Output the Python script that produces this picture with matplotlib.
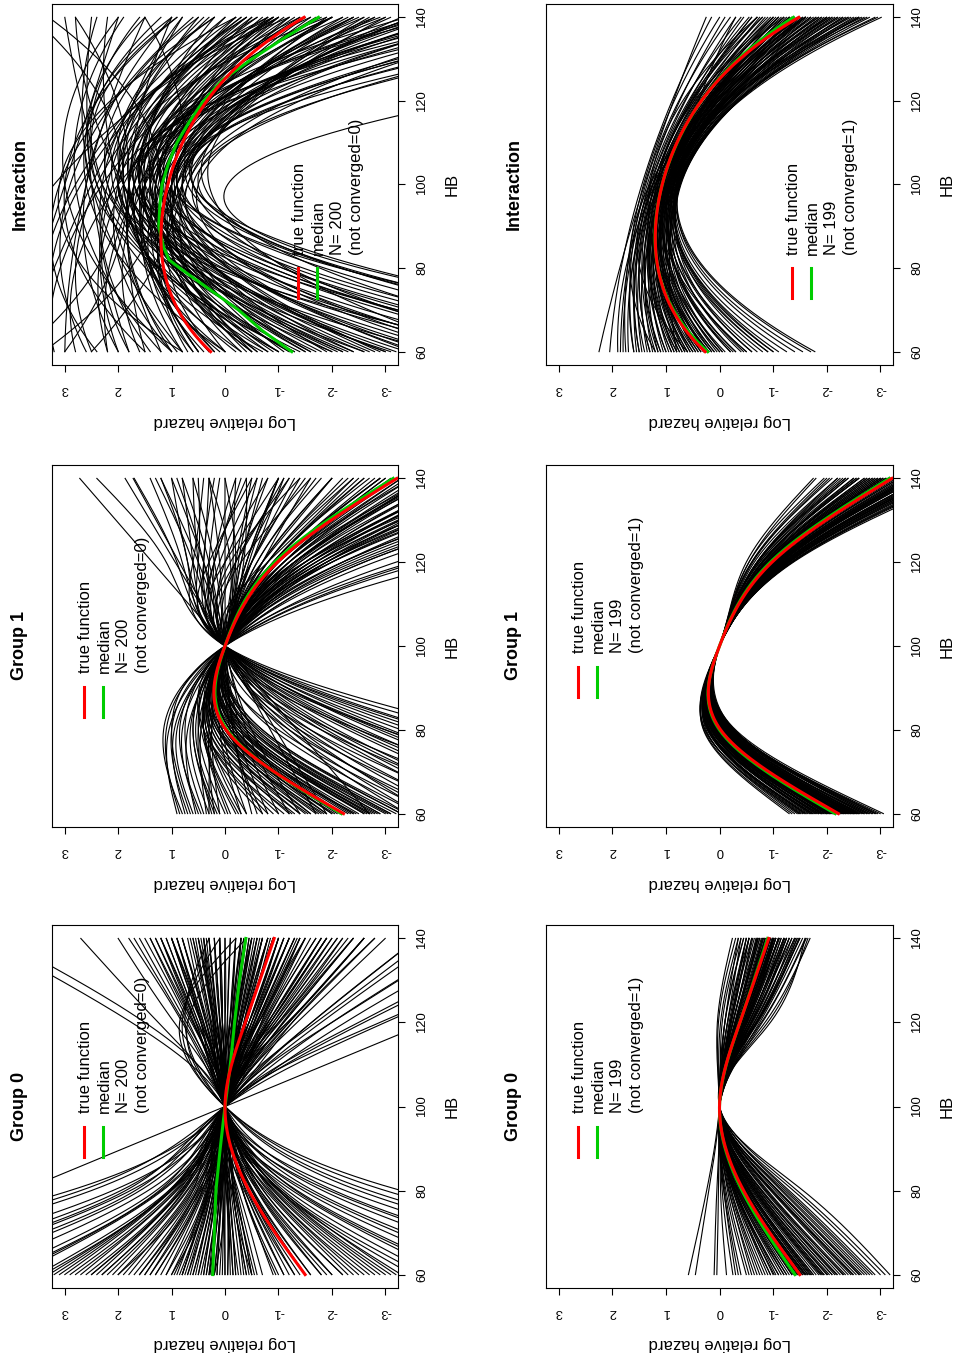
import numpy as np
import matplotlib
matplotlib.use("Agg")
import matplotlib.pyplot as plt
from matplotlib.lines import Line2D
from matplotlib.transforms import Affine2D, ScaledTranslation, blended_transform_factory

plt.rcParams['font.family'] = ['Liberation Sans', 'DejaVu Sans']

# ------------------------------------------------------------------ data
HB_TICKS = [60, 80, 100, 120, 140]
HAZ_TICKS = [3, 2, 1, 0, -1, -2, -3]
HAZ_LABELS = ['3', '2', '1', '0', '-1', '-2', '-3']
KNOTS5 = [60, 80, 100, 120, 140]

# true functions (values at HB = 60, 80, 100, 120, 140)
true_group0 = [-1.50, -0.45, 0.0, -0.38, -0.92]
true_group1 = [-2.22, -0.02, 0.0, -0.98, -3.22]
true_inter = [0.27, 1.15, 1.07, 0.34, -1.48]

# medians of the converged fits
med_g0_conv1 = [-1.41, -0.42, 0.0, -0.38, -0.90]
med_g1_conv0 = [-2.18, -0.04, 0.0, -0.93, -3.15]
med_g1_conv1 = [-2.16, 0.00, 0.0, -0.95, -3.17]
med_int_conv1 = [0.22, 1.15, 1.07, 0.34, -1.38]
med_g0_conv0_hb = [60, 70, 80, 90, 100, 110, 120, 130, 140]
med_g0_conv0 = [0.23, 0.20, 0.17, 0.09, 0.0, -0.10, -0.18, -0.27, -0.39]
med_int_conv0_hb = [60, 65, 70, 75, 80, 82, 85, 90, 95, 100, 105, 110, 115,
                    120, 125, 130, 135, 140]
med_int_conv0 = [-1.25, -0.70, -0.25, 0.30, 0.85, 1.05, 1.15, 1.24, 1.22, 1.18,
                 1.06, 0.90, 0.67, 0.40, 0.05, -0.50, -1.10, -1.75]

# ---- Group 0, N=200: simulated fits (values at HB 60, 80, 120, 140; 0 at HB 100)
g0_c0_hb60 = [0.85, 0.8, 0.75, 0.7, 0.65, 0.6, 0.55, 0.5, 0.45, 0.4,
              0.35, 0.3, 0.25, 0.2, 0.15, 0.1, 0.05, 0.0, -0.05, -0.1,
              -0.15, -0.2, -0.25, -0.3, -0.35, -0.4, -0.45, -0.5, 0.9, 0.28,
              1.0, 1.2, 1.4, 1.6, 1.8, 2.0, 2.2, 2.4, 2.6, 2.8,
              3.0, 3.2, 1.1, 1.5, 1.9, 2.3, 2.7, 3.1, 1.3, 2.5,
              -1.0, -1.2, -1.4, -1.6, -1.8, -2.0, -2.2, -2.4, -2.6, -2.8,
              -3.0, -3.2, -1.1, -1.5, -1.9, -2.3, -2.7, -3.1, -1.3, -2.5,
              3.5, 3.9, 4.3, 4.8, 5.3, 5.9, 6.5, 7.0, 7.6, 8.3,
              9.0, 9.6, 4.1, 5.6, 3.4, 6.2,
              -3.5, -3.9, -4.4, -4.9, -5.5, -6.1, -6.8, -7.5, -8.3, -9.0,
              -10.0, -11.0, -4.2, -5.2, -6.5, -3.7,
              1.5, 0.8, -0.5, 0.3, 1.0, 2.0, -0.5, 0.2,
              0.6, 0.4, 0.2, 0.0, -0.2, -0.4, 0.8, -0.6, 1.1, -0.9,
              1.3, -1.1, 1.7, -1.5, 2.1, -1.8, 2.5, -2.2, 0.35, -0.15,
              0.7, -0.7, 0.95, -0.95, 1.6, -1.6, 2.9, -2.9, 3.3, -3.3,
              0.5, -0.55, 0.15, -0.05, 1.4, -1.3, 2.3, -2.0, 4.0, -4.5]
g0_c0_hb80 = [0.32, 0.30, 0.28, 0.26, 0.25, 0.22, 0.2, 0.19, 0.17, 0.15,
              0.13, 0.11, 0.09, 0.07, 0.05, 0.04, 0.02, 0.0, -0.02, -0.04,
              -0.05, -0.07, -0.09, -0.11, -0.13, -0.15, -0.17, -0.19, 0.34, 0.1,
              0.33, 0.4, 0.46, 0.53, 0.6, 0.66, 0.72, 0.8, 0.86, 0.92,
              1.0, 1.05, 0.36, 0.5, 0.63, 0.76, 0.9, 1.02, 0.43, 0.83,
              -0.33, -0.4, -0.46, -0.53, -0.6, -0.66, -0.72, -0.8, -0.86, -0.92,
              -1.0, -1.05, -0.36, -0.5, -0.63, -0.76, -0.9, -1.02, -0.43, -0.83,
              1.05, 1.17, 1.29, 1.44, 1.59, 1.77, 1.95, 2.1, 3.8, 2.5,
              2.7, 2.9, 1.23, 1.68, 1.02, 1.86,
              -1.05, -1.17, -1.32, -1.47, -1.65, -1.83, -2.04, -2.25, -2.5, -2.7,
              -3.0, -3.3, -1.26, -1.56, -1.95, -1.1,
              0.45, 0.25, -0.15, 0.1, 0.3, 0.6, -0.15, 0.06,
              0.22, 0.16, 0.08, 0.0, -0.08, -0.15, 0.3, -0.22, 0.38, -0.32,
              0.42, -0.38, 0.56, -0.5, 0.7, -0.6, 0.82, -0.72, 0.12, -0.05,
              0.25, -0.25, 0.33, -0.33, 0.52, -0.52, 0.95, -0.95, 1.0, -1.0,
              0.18, -0.2, 0.05, -0.02, 0.48, -0.44, 0.78, -0.66, 1.2, -1.35]
g0_c0_hb120 = [-0.85, 0.42, -0.27, -1.1, 0.14, -0.55, 0.6, -0.09, -0.72, 0.27,
               -0.4, -0.95, 0.05, -0.22, 0.5, -0.63, -0.13, 0.22, -1.2, -0.36,
               0.09, -0.5, 0.72, -0.18, -0.8, 0.36, -0.04, -0.58, 0.0, -0.31,
               -0.45, 0.18, -1.0, -0.13, 0.45, -0.68, -0.27, 0.32, -1.26, -0.4,
               0.09, -0.81, -1.35, 0.63, -0.05, -0.9, 0.54, -0.22, -0.31, -0.5,
               0.14, -0.54, 0.4, -0.22, 0.58, -0.85, 0.0, -0.36, 0.68, -0.09,
               0.27, -0.63, -1.03, -0.09, 0.22, -1.17, 0.05, 0.45, 0.77, -0.45,
               -0.54, -0.13, -1.08, -0.36, -1.62, -0.77, -2.0, -0.22, -3.8, -1.26,
               -2.25, -0.68, -1.8, -2.6, -1.62, -3.0,
               0.18, -0.27, 0.54, -0.45, 0.22, -0.13, 0.45, -0.63, 0.75, 0.7,
               0.85, 0.8, -0.9, -1.17, -1.0, 0.8,
               1.5, 1.75, 1.25, 0.95, -2.0, -2.5, -1.7, -2.9,
               -0.3, 0.35, -0.6, 0.15, -0.45, 0.5, -0.15, -0.3, 0.25, -0.7,
               -0.55, 0.3, -0.4, -0.2, 0.15, -0.6, -0.75, 0.35, 0.05, -0.25,
               0.45, -0.95, -1.1, 0.6, -0.85, 0.1, -0.35, -0.5, 0.2, -0.8,
               -0.2, 0.2, 0.4, -0.85, 0.05, -0.4, -1.2, 0.55, -0.6, -0.3]
g0_c0_hb140 = [-1.9, 0.9, -0.6, -2.4, 0.3, -1.2, 1.4, -0.2, -1.6, 0.6,
               -0.9, -2.1, 0.1, -0.5, 1.1, -1.4, -0.3, 0.5, -2.6, -0.8,
               0.2, -1.1, 1.6, -0.4, -1.8, 0.8, -0.1, -1.3, 0.0, -0.7,
               -1.0, 0.4, -2.2, -0.3, 1.0, -1.5, -0.6, 0.7, -2.8, -0.9,
               0.2, -1.8, -3.0, 1.4, -0.1, -2.0, 1.2, -0.5, -0.7, -1.1,
               0.3, -1.2, 0.9, -0.5, 1.3, -1.9, 0.0, -0.8, 1.5, -0.2,
               0.6, -1.4, -2.3, -0.2, 0.5, -2.6, 0.1, 1.0, 1.7, -1.0,
               -1.2, -0.3, -2.4, -0.8, -3.6, -1.7, -4.5, -0.5, -7.6, -2.8,
               -5.0, -1.5, -4.0, -5.8, -3.6, -6.6,
               0.4, -0.6, 1.2, -1.0, 0.5, -0.3, 1.0, -1.4, 0.3, -0.4,
               -0.2, 0.1, -2.0, -2.6, -2.2, 1.8,
               4.2, 4.5, 2.7, 2.0, -4.5, -5.5, -3.8, -6.5,
               -0.7, 0.8, -1.3, 0.3, -1.0, 1.1, -0.35, -0.65, 0.55, -1.5,
               -1.2, 0.65, -0.9, -0.45, 0.35, -1.35, -1.7, 0.8, 0.1, -0.55,
               1.0, -2.1, -2.4, 1.3, -1.9, 0.2, -0.8, -1.1, 0.4, -1.8,
               -0.45, 0.45, 0.9, -1.9, 0.1, -0.85, -2.6, 1.2, -1.3, -0.7]

# ---- Group 0, N=199 (values at HB 60, 80, 120, 140; 0 at HB 100)
g0_c1_hb60 = [0.58, 0.45, 0.10, 0.05, -0.13, -0.25, -0.40, -0.55, -0.70, -0.85,
              -1.00, -1.10, -1.20, -1.30, -1.40, -1.50, -1.55, -1.60, -1.70, -1.80,
              -1.90, -2.00, -2.10, -2.20, -2.30, -2.40, -2.50, -2.60, -2.70, -2.80,
              -2.90, -3.00, -3.09, -3.18, -0.30, -0.60, -0.90, -1.15, -1.45, -1.75,
              -2.05, -2.35, -1.25, -1.65, -1.95, -2.25, -2.55, -2.85, -1.35, -1.85,
              -2.15, -0.75, -1.05, -2.65, -1.58, -1.42, -1.62, -2.45, -0.95, -1.95,
              -1.45, -1.52, -1.48, -1.65, -1.35, -1.75, -1.25, -1.88, -1.10, -2.02,
              -0.95, -2.18, -0.80, -2.32, -0.65, -2.48, -0.50, -2.62, -0.35, -2.75,
              -1.55, -1.60, -1.38, -1.68, -1.20, -1.92, -1.02, -2.10, -1.48, -1.72]
g0_c1_hb80 = [0.24, 0.20, 0.05, 0.02, -0.02, -0.05, -0.10, -0.15, -0.20, -0.25,
              -0.30, -0.28, -0.35, -0.38, -0.40, -0.45, -0.48, -0.50, -0.55, -0.60,
              -0.65, -0.70, -0.75, -0.80, -0.88, -0.95, -1.00, -1.08, -1.15, -1.22,
              -1.30, -1.38, -1.45, -1.56, -0.08, -0.18, -0.26, -0.32, -0.42, -0.58,
              -0.72, -0.90, -0.36, -0.52, -0.66, -0.84, -1.04, -1.26, -0.40, -0.62,
              -0.78, -0.22, -0.30, -1.10, -0.47, -0.43, -0.50, -0.97, -0.28, -0.68,
              -0.42, -0.46, -0.44, -0.53, -0.38, -0.57, -0.34, -0.63, -0.30, -0.70,
              -0.25, -0.78, -0.22, -0.86, -0.17, -0.98, -0.12, -1.08, -0.08, -1.18,
              -0.47, -0.50, -0.40, -0.55, -0.33, -0.66, -0.28, -0.74, -0.45, -0.56]
g0_c1_hb120 = [-0.10, -0.05, 0.02, -0.15, 0.04, -0.02, -0.20, -0.10, -0.30, -0.15,
               -0.35, -0.25, -0.45, -0.20, -0.40, -0.38, -0.50, -0.30, -0.45, -0.55,
               -0.35, -0.60, -0.42, -0.65, -0.48, -0.70, -0.55, -0.78, -0.60, -0.85,
               -0.65, -0.90, -0.70, -0.95, -0.25, -0.45, -0.55, -0.60, -0.15, -0.22,
               -0.25, -0.30, -0.70, -0.75, -0.80, -0.52, -0.40, -0.50, -0.32, -0.48,
               -0.58, -0.10, -0.65, -0.72, -0.42, -0.36, -0.40, -0.62, -0.28, -0.50,
               -0.38, -0.44, -0.33, -0.47, -0.41, -0.36, -0.30, -0.52, -0.45, -0.40,
               -0.35, -0.55, -0.22, -0.45, -0.40, -0.60, -0.18, -0.48, -0.30, -0.68,
               -0.58, -0.25, -0.50, -0.55, -0.20, -0.30, -0.50, -0.68, -0.46, -0.42]
g0_c1_hb140 = [-0.45, -0.40, -0.30, -0.55, -0.24, -0.35, -0.60, -0.45, -0.75, -0.50,
               -0.85, -0.65, -1.00, -0.55, -0.90, -0.92, -1.10, -0.75, -1.00, -1.20,
               -0.80, -1.30, -0.95, -1.40, -1.05, -1.50, -1.15, -1.60, -1.25, -1.69,
               -1.35, -1.65, -1.45, -1.60, -0.70, -1.05, -1.25, -1.35, -0.40, -0.55,
               -0.60, -0.70, -1.50, -1.55, -1.62, -1.10, -0.85, -1.00, -0.78, -1.02,
               -1.22, -0.35, -1.40, -1.48, -0.95, -0.88, -0.90, -1.30, -0.72, -1.10,
               -0.85, -0.98, -0.80, -1.05, -0.95, -0.82, -0.72, -1.15, -1.00, -0.92,
               -0.82, -1.20, -0.55, -1.00, -0.90, -1.30, -0.50, -1.05, -0.68, -1.42,
               -1.25, -0.62, -1.12, -1.20, -0.50, -0.72, -1.10, -1.45, -1.02, -0.95]

# ---- Group 1, N=200 (values at HB 60, 80, 120, 140; 0 at HB 100)
g1_c0_hb60 = [-4.0, -4.5, -5.0, -5.5, -6.0, -6.5, -7.0, -7.5, -8.0, -8.5,
              -9.0, -10.0, -11.0, -3.6, -4.2, -4.8, -5.3, -5.8, -6.3, -6.8,
              -7.3, -3.4, -3.8, -9.5, -12.0,
              -2.7, -1.9, -1.7,
              0.85, 0.9, 0.75, 0.6, 0.5, 0.4, 0.3, 0.2, 0.1, 0.0,
              -0.1, -0.2, -0.3, -0.4, 0.8, 0.55, 0.25, -0.05, 0.65, 0.35,
              -0.8, -1.0, -1.2, -1.4, -1.5, -1.6, -1.7, -1.8, -1.9, -2.0,
              -2.1, -2.2, -2.3, -2.4, -2.5, -2.6, -2.7, -2.8, -2.9, -3.0,
              -3.1, -3.2, -3.3, -3.4, -1.1, -1.3, -1.75, -2.05, -2.35, -2.65,
              -0.9, -1.55, -2.45, -2.85, -1.25, -2.15, -0.7, -1.85, -2.75, -3.05,
              0.3, -0.5, -0.4, 0.1, -0.6, 0.2,
              -3.6, -4.2, -5.0, -6.0, -7.0, -3.3, -3.9, -4.6, -5.5, -8.0,
              -2.2, -2.6, -1.9, -2.9, -1.6, -2.4, -2.0, -3.1, -1.4, -2.7,
              0.45, 0.15, -0.25, 0.7,
              -1.0, -0.8, -1.2, -0.3, -1.4, -0.7]
g1_c0_hb80 = [-1.3, -1.6, -1.9, -2.1, -2.4, -2.6, -2.9, -3.1, -3.3, -3.5,
              -3.7, -4.0, -4.4, -1.2, -1.5, -1.8, -2.0, -2.3, -2.5, -2.8,
              -3.0, -1.1, -1.4, -3.9, -4.8,
              -1.35, -0.95, -0.85,
              1.1, 1.05, 0.95, 0.9, 0.8, 0.75, 0.65, 0.6, 0.55, 0.5,
              0.45, 0.4, 0.35, 0.3, 1.15, 0.7, 0.5, 0.4, 1.0, 0.45,
              0.35, 0.3, 0.25, 0.2, 0.15, 0.1, 0.05, 0.0, 0.0, -0.05,
              -0.1, -0.1, -0.15, -0.2, -0.25, -0.3, -0.35, -0.4, -0.45, -0.5,
              -0.55, -0.6, -0.65, -0.7, 0.4, 0.25, 0.1, 0.0, -0.2, -0.25,
              0.35, 0.2, -0.1, -0.4, 0.3, -0.2, 0.4, 0.15, -0.3, -0.5,
              0.25, -0.15, 0.05, 0.25, -0.15, 0.3,
              -0.9, -1.2, -1.6, -2.0, -2.5, -0.7, -1.0, -1.4, -1.8, -3.0,
              -0.2, -0.35, -0.1, -0.5, 0.05, -0.3, -0.15, -0.6, 0.12, -0.4,
              0.85, 0.6, 0.4, 1.0,
              -0.3, -0.2, -0.4, 0.1, -0.5, -0.1]
g1_c0_hb120 = [0.2, 0.5, 0.3, 0.7, 0.1, 0.6, 0.4, 0.9, 0.2, 0.7,
               0.5, 1.1, 0.3, -0.2, 0.0, -0.1, 0.4, -0.3, 0.2, 0.8,
               -0.2, 0.4, 0.6, 0.0, 0.6,
               1.36, 0.93, 0.86,
               -3.6, -2.6, -2.3, -2.0, -1.8, -2.8, -1.6, -2.2, -1.5, -1.9,
               -3.5, -1.4, -2.4, -1.2, -3.8, -1.3, -1.1, -1.7, -4.3, -1.0,
               -0.5, -0.8, -1.2, -0.6, -1.5, -0.9, -1.1, -0.7, -1.3, -1.0,
               -0.8, -1.2, -1.6, -0.9, -1.1, -1.4, -0.6, -1.0, -1.8, -0.8,
               -1.2, -0.5, -1.5, -0.9, -1.9, -0.4, -2.0, -0.45, -1.3, -2.2,
               -0.3, -0.25, -0.35, -0.2, -0.15, -0.1, -1.0, -1.7, -1.9, -1.35,
               -0.3, 0.2, -0.5, -0.7, 0.4, -0.4,
               -1.1, -0.9, -1.3, -0.7, -1.5, -1.6, -2.0, -0.5, -1.0, -0.8,
               -1.5, -2.2, -1.8, -1.3, -2.5, -0.7, -1.1, -1.0, -1.3, -1.7,
               -2.6, -1.9, -1.6, -3.2,
               0.1, -0.2, 0.5, -0.4, 0.3, 0.0]
g1_c0_hb140 = [-0.2, 0.6, 0.1, 1.0, -0.6, 0.8, 0.3, 1.7, -0.3, 1.2,
               0.5, 2.4, -0.5, -1.2, -0.8, -1.4, 0.2, -1.6, -0.4, 1.4,
               -1.1, 0.9, 1.3, -1.0, 0.4,
               2.72, 1.87, 1.72,
               -10.0, -7.5, -6.8, -6.0, -5.5, -8.0, -5.0, -6.5, -4.6, -5.8,
               -10.0, -4.2, -7.0, -3.8, -11.0, -4.0, -3.5, -5.2, -12.0, -3.2,
               -1.5, -2.3, -3.4, -1.8, -4.2, -2.7, -3.0, -2.0, -3.7, -2.9,
               -2.4, -3.3, -4.4, -2.6, -3.1, -3.9, -1.7, -2.8, -4.9, -2.2,
               -3.5, -1.3, -4.1, -2.5, -5.0, -1.2, -5.6, -1.0, -3.6, -6.0,
               -0.8, -0.6, -0.4, 0.0, -0.2, 0.3, -2.9, -4.6, -5.2, -3.8,
               -0.7, 0.6, -1.1, -1.6, 1.0, -1.0,
               -3.3, -2.6, -3.8, -2.0, -4.5, -4.8, -6.0, -1.4, -3.0, -2.4,
               -4.5, -6.5, -5.4, -3.8, -7.2, -2.0, -3.2, -2.9, -3.9, -5.0,
               -7.4, -5.6, -4.8, -9.0,
               0.3, -0.5, 1.2, -1.0, 0.8, 0.0]

# ---- Group 1, N=199 (values at HB 60, 80, 120, 140; 0 at HB 100)
g1_c1_hb60 = [-1.30, -1.40, -1.50, -1.55, -1.62, -1.68, -1.74, -1.80, -1.85, -1.90,
              -1.95, -2.00, -2.03, -2.07, -2.10, -2.14, -2.18, -2.22, -2.25, -2.28,
              -2.32, -2.36, -2.40, -2.44, -2.48, -2.52, -2.56, -2.60, -2.65, -2.70,
              -2.75, -2.80, -2.86, -2.92, -3.00, -3.06, -1.60, -1.75, -1.90, -2.05,
              -2.50, -2.70, -2.90, -2.40, -1.45, -1.65, -2.20, -2.60, -2.00, -2.30,
              -1.85, -2.15, -2.45, -2.75, -1.35, -2.95, -1.95, -2.35, -2.55, -2.10,
              -1.70, -1.78, -1.88, -1.98, -2.06, -2.12, -2.16, -2.20, -2.26, -2.31,
              -2.38, -2.42, -2.47, -2.53, -2.58, -2.62, -2.68, -1.58, -1.72, -1.82,
              -1.92, -2.02, -2.24, -2.34, -2.50, -2.78, -2.84, -1.48, -1.52, -2.12]
g1_c1_hb80 = [0.30, 0.25, 0.27, 0.20, 0.23, 0.15, 0.19, 0.10, 0.17, 0.07,
              0.13, 0.05, 0.10, 0.03, 0.07, 0.00, 0.05, -0.02, 0.02, -0.05,
              -0.01, -0.07, -0.03, -0.10, -0.06, -0.13, -0.09, -0.15, -0.12, -0.19,
              -0.15, -0.23, -0.20, -0.27, -0.25, -0.30, 0.20, 0.15, 0.10, 0.05,
              -0.10, -0.20, -0.25, -0.05, 0.27, 0.21, 0.03, -0.15, 0.09, -0.03,
              0.15, 0.03, -0.07, -0.17, 0.29, -0.27, 0.11, -0.05, -0.11, 0.05,
              0.14, 0.10, 0.06, 0.02, 0.00, -0.03, -0.04, -0.06, -0.08, -0.10,
              -0.12, -0.14, -0.16, -0.18, -0.20, -0.22, -0.24, 0.18, 0.12, 0.08,
              0.04, 0.01, -0.07, -0.11, -0.17, -0.26, -0.28, 0.22, 0.20, -0.04]
g1_c1_hb120 = [-0.50, -0.55, -0.65, -0.60, -0.72, -0.70, -0.80, -0.75, -0.85, -0.82,
               -0.90, -0.88, -0.95, -0.92, -0.98, -0.96, -1.02, -0.94, -1.05, -1.00,
               -1.08, -1.04, -1.12, -1.08, -1.16, -1.12, -1.20, -1.16, -1.25, -1.22,
               -1.30, -1.28, -1.35, -1.33, -1.38, -1.36, -1.10, -1.20, -1.25, -1.30,
               -0.80, -0.75, -0.85, -0.70, -0.95, -0.55, -1.25, -1.35, -0.70, -0.85,
               -1.00, -1.15, -0.95, -1.10, -0.70, -1.20, -0.60, -1.30, -1.00, -0.80,
               -0.90, -0.95, -0.80, -1.05, -0.90, -1.10, -0.86, -1.00, -1.14, -0.92,
               -1.06, -1.20, -0.98, -1.10, -1.24, -1.02, -1.14, -0.78, -1.00, -1.12,
               -0.72, -1.18, -1.28, -0.80, -0.88, -1.26, -1.00, -0.85, -0.62, -0.96]
g1_c1_hb140 = [-1.75, -1.95, -2.20, -2.10, -2.40, -2.35, -2.60, -2.50, -2.75, -2.70,
               -2.90, -2.85, -3.00, -2.95, -3.10, -3.05, -3.20, -3.22, -3.30, -3.25,
               -3.40, -3.35, -3.55, -3.45, -3.65, -3.60, -3.80, -3.70, -3.95, -3.90,
               -4.10, -4.05, -4.30, -4.25, -4.50, -4.40, -3.50, -3.80, -3.95, -4.20,
               -2.50, -2.40, -2.70, -2.20, -3.00, -1.80, -4.00, -4.35, -2.30, -2.75,
               -3.15, -3.60, -3.05, -3.50, -2.25, -3.85, -2.00, -4.15, -3.20, -2.55,
               -2.90, -3.05, -2.60, -3.35, -2.95, -3.55, -2.80, -3.15, -3.70, -3.00,
               -3.45, -3.90, -3.10, -3.55, -4.00, -3.25, -3.65, -2.55, -3.20, -3.60,
               -2.35, -3.80, -4.05, -2.60, -2.85, -3.95, -3.20, -2.80, -2.05, -3.12]

# ---- Interaction, N=200 (values at HB 60, 100, 140)
int_c0_hb60 = [0.8, 0.5, 0.3, 0.0, -0.3, -0.6, -0.9, -1.2, -1.5, -1.8,
               -2.1, -2.4, -2.7, -3.0, -3.2, 0.6, 0.2, -0.4, -1.0, -1.6,
               -2.2, -2.8, 1.0, 0.4, -0.2, -0.8, -1.4, -2.0, -2.6, -3.1,
               0.1, -0.5, -1.1, -1.7, -2.3, -2.9, 0.7, -0.7, -1.3, -1.9,
               -4.0, -4.6, -5.2, -5.8, -6.5, -7.2, -8.0, -9.0, -10.0, -11.0,
               -4.3, -5.0, -6.0, -7.0, -3.6, -4.8, -5.5, -6.8, -3.8, -8.5,
               -12.0, -10.5,
               1.5, 2.0, 2.5, 3.0, 3.5, 4.0, 2.2, 2.8, 3.3, 3.8,
               1.8, 1.2, 0.5, -0.5, 0.0, 1.0, 2.4, -1.0, 4.5, 3.0,
               3.4, 2.5, 3.8, 0.8, 1.5,
               0.5, 1.0, -0.5, 0.2, -1.2, 1.4, -0.8, 0.9, -1.6, 2.0,
               -2.4, 0.0, -1.0, 1.8, -2.0, 0.6, -0.3, 1.2, -1.5, 2.6,
               -3.0, -2.6, 0.3, -0.6, 1.6, 2.2, -1.3, 0.8, -2.2, 3.2,
               -5.0, -6.2, -4.4, -7.5, -3.4, -9.5, -5.6, -4.0, -6.8, -3.5]
int_c0_hb100 = [1.5, 1.3, 1.2, 1.1, 1.0, 1.4, 1.6, 1.3, 1.2, 1.5,
                1.7, 1.4, 1.1, 1.6, 1.9, 0.9, 0.8, 0.7, 0.9, 0.8,
                1.0, 0.9, 1.8, 1.7, 1.9, 2.0, 1.8, 2.1, 2.0, 2.2,
                1.4, 1.25, 1.15, 1.35, 1.55, 1.3, 1.0, 1.6, 1.7, 0.95,
                1.2, 0.9, 1.4, 0.6, 1.0, 0.4, 0.8, 0.6, 0.5, 0.6,
                1.6, 1.8, 1.5, 1.3, 1.0, 0.3, 2.0, 1.7, 0.7, 1.1,
                -0.05, 0.9,
                1.8, 2.2, 2.4, 2.6, 2.8, 3.0, 1.6, 2.0, 2.3, 2.5,
                2.5, 2.3, 2.0, 1.9, 2.6, 3.0, 3.1, 2.4, 3.2, 1.8,
                1.2, 0.8, 1.9, 3.1, 3.0,
                1.6, 2.0, 1.5, 1.9, 1.8, 2.3, 1.3, 1.7, 1.6, 2.6,
                1.2, 1.5, 2.2, 2.1, 1.9, 1.2, 2.4, 2.8, 1.0, 2.9,
                1.4, 1.7, 1.0, 0.9, 1.5, 1.9, 2.5, 2.5, 2.3, 2.7,
                1.0, 1.2, 0.5, 0.9, 1.3, 0.7, 1.6, 1.8, 0.6, 0.8]
int_c0_hb140 = [-0.5, -1.0, -1.5, -0.8, -2.0, -1.2, -0.3, -1.8, -2.4, -1.0,
                -0.6, -2.2, -2.8, -1.6, -0.9, -2.6, -3.0, -2.7, -3.3, -3.1,
                -3.5, -2.5, 0.0, -0.2, 0.3, -0.4, -1.4, -0.8, -1.9, -1.2,
                -2.3, -1.7, -0.7, -2.6, -2.0, -0.4, -1.9, -3.0, -2.9, -1.3,
                -4.5, -3.8, -5.5, -4.2, -6.5, -5.0, -7.5, -6.0, -9.0, -8.0,
                -3.6, -4.8, -3.4, -4.6, -3.9, -3.5, -6.0, -5.2, -5.8, -4.0,
                -16.0, -9.0,
                1.0, 0.5, -0.5, 1.5, 0.0, 2.0, -1.2, -2.0, -1.0, 0.8,
                2.5, 3.0, 2.2, 2.8, 1.2, 2.0, 0.2, 1.5, -0.8, 2.8,
                3.3, 1.5, 3.6, -0.2, 0.9,
                0.2, -0.6, -0.9, 0.8, -0.2, 0.4, -1.4, -1.1, -0.9, 1.0,
                -1.5, -2.0, 0.5, -0.4, 0.2, -2.2, 1.6, 1.9, -2.4, 0.6,
                -2.0, -1.0, -2.8, -2.4, -1.6, -0.9, 1.0, 2.4, 0.9, -0.3,
                -5.0, -4.4, -6.2, -6.8, -4.2, -7.0, -3.8, -5.2, -8.2, -3.6]

# ---- Interaction, N=199 (values at HB 60, 100, 140)
int_c1_hb60 = [2.25, 2.05, 1.85, 1.80, 1.75, 1.70, 1.60, 1.55, 1.50, 1.45,
               1.40, 1.35, 1.30, 1.25, 1.20, 1.15, 1.10, 1.05, 1.00, 0.95,
               0.90, 0.85, 0.80, 0.75, 0.70, 0.65, 0.60, 0.55, 0.50, 0.45,
               0.40, 0.35, 0.30, 0.25, 0.20, 0.15, 0.10, 0.05, 0.00, -0.05,
               -0.10, -0.20, -0.30, -0.40, -0.50, -0.60, -0.70, -0.80, -0.90, -1.00,
               -1.10, -1.25, -1.40, -1.55, -1.78, -1.70,
               1.2, 0.6, -0.5, -1.0, 1.6, 0.2, 0.8, 1.9,
               1.0, 0.7, 0.4, 0.1, -0.2, 0.9, 0.6, 0.3, 0.0, -0.3,
               1.3, 1.1, 0.8, 0.5, 0.2, 1.5, -0.6, -0.9, 0.35, 0.75,
               0.55, 0.25, -0.05, -0.45, 1.15, 0.85, -0.25, 0.45, 0.15, 0.65]
int_c1_hb100 = [1.40, 1.45, 1.35, 1.30, 1.42, 1.25, 1.38, 1.20, 1.32, 1.15,
                1.28, 1.10, 1.24, 1.05, 1.20, 1.00, 1.16, 0.98, 1.12, 0.95,
                1.10, 0.92, 1.08, 0.90, 1.06, 0.88, 1.04, 0.86, 1.02, 0.84,
                1.00, 0.82, 1.07, 0.80, 0.98, 0.78, 0.96, 0.76, 0.94, 0.75,
                0.92, 0.74, 0.90, 0.73, 0.88, 0.72, 0.86, 0.74, 0.84, 0.76,
                0.82, 0.78, 0.80, 0.75, 0.77, 0.80,
                1.30, 1.25, 1.15, 0.95, 1.10, 1.30, 0.80, 1.20,
                1.05, 1.00, 0.95, 0.90, 0.86, 1.15, 1.10, 1.04, 0.98, 0.92,
                1.18, 1.12, 1.06, 1.00, 0.94, 1.25, 0.85, 0.80, 0.88, 0.95,
                1.18, 1.12, 1.02, 0.96, 1.00, 1.22, 0.80, 1.08, 1.00, 1.04]
int_c1_hb140 = [0.25, 0.15, -0.10, -0.30, 0.00, -0.45, -0.20, -0.60, -0.40, -0.75,
                -0.55, -0.85, -0.70, -1.00, -0.80, -1.10, -0.95, -1.20, -1.05, -1.30,
                -1.15, -1.40, -1.25, -1.50, -1.35, -1.60, -1.45, -1.70, -1.55, -1.80,
                -1.65, -1.90, -1.49, -2.00, -1.75, -2.10, -1.85, -2.20, -1.95, -2.30,
                -2.05, -2.40, -2.15, -2.50, -2.25, -2.60, -2.35, -2.70, -2.45, -2.80,
                -2.55, -2.90, -2.65, -3.02, -2.95, -2.75,
                -2.0, -2.6, -1.2, -1.6, -1.6, -0.7, -0.3, -1.1,
                -1.2, -1.4, -1.6, -1.9, -2.1, -0.9, -1.1, -1.35, -1.6, -1.85,
                -1.0, -1.3, -1.55, -1.8, -2.05, -0.6, -2.2, -2.4, -2.3, -2.0,
                -0.8, -1.0, -1.3, -1.6, -1.7, -0.7, -2.6, -1.5, -1.7, -1.3]

# ------------------------------------------------------------------ drawing
W, H = 960, 1358
RED = '#FF0000'
GREEN = '#00CD00'
fig = plt.figure(figsize=(W / 100, H / 100), dpi=100)
px = Affine2D().scale(1.0 / W, -1.0 / H).translate(0, 1) + fig.transFigure
hb_grid = np.linspace(60, 140, 241)


def poly_curve(knots, vals, grid):
    """Polynomial through the given (HB, value) points."""
    k = (np.asarray(knots, float) - 100.0) / 40.0
    coef = np.polynomial.polynomial.polyfit(k, np.asarray(vals, float), len(knots) - 1)
    return np.polynomial.polynomial.polyval((grid - 100.0) / 40.0, coef)


def spline_curve(knots, vals, grid):
    """Natural cubic spline through the given (HB, value) points."""
    xk = np.asarray(knots, float)
    yk = np.asarray(vals, float)
    n = len(xk)
    h = np.diff(xk)
    A = np.zeros((n, n))
    r = np.zeros(n)
    A[0, 0] = A[-1, -1] = 1.0
    for i in range(1, n - 1):
        A[i, i - 1] = h[i - 1]
        A[i, i] = 2 * (h[i - 1] + h[i])
        A[i, i + 1] = h[i]
        r[i] = 6 * ((yk[i + 1] - yk[i]) / h[i] - (yk[i] - yk[i - 1]) / h[i - 1])
    M = np.linalg.solve(A, r)
    j = np.clip(np.searchsorted(xk, grid) - 1, 0, n - 2)
    x0, x1 = xk[j], xk[j + 1]
    hh = x1 - x0
    t0, t1 = x1 - grid, grid - x0
    return ((M[j] * t0 ** 3 + M[j + 1] * t1 ** 3) / (6 * hh)
            + (yk[j] / hh - M[j] * hh / 6) * t0 + (yk[j + 1] / hh - M[j + 1] * hh / 6) * t1)


def group_sims(*cols):
    assert all(len(c) == len(cols[0]) for c in cols), [len(c) for c in cols]
    return KNOTS5, [(a, b, 0.0, c, d) for a, b, c, d in zip(*cols)], spline_curve


def inter_sims(*cols):
    assert all(len(c) == len(cols[0]) for c in cols), [len(c) for c in cols]
    return [60, 100, 140], list(zip(*cols)), poly_curve


LEFT = (52, 398)
RIGHT = (546, 893)
ROWS = {'top': (4, 365), 'mid': (465, 827), 'bot': (925, 1288)}

panels = [
    dict(title='Interaction', col=LEFT, row='top',
         sims=inter_sims(int_c0_hb60, int_c0_hb100, int_c0_hb140),
         true=(true_inter, poly_curve), med=(med_int_conv0_hb, med_int_conv0, None),
         leg=(247, 255, (268.3, 298.3)), n='N= 200', nc='(not converged=0)'),
    dict(title='Interaction', col=RIGHT, row='top',
         sims=inter_sims(int_c1_hb60, int_c1_hb100, int_c1_hb140),
         true=(true_inter, poly_curve), med=(KNOTS5, med_int_conv1, poly_curve),
         leg=(247, 255, (268.3, 298.3)), n='N= 199', nc='(not converged=1)'),
    dict(title='Group 1', col=LEFT, row='mid',
         sims=group_sims(g1_c0_hb60, g1_c0_hb80, g1_c0_hb120, g1_c0_hb140),
         true=(true_group1, spline_curve), med=(KNOTS5, med_g1_conv0, spline_curve),
         leg=(33, 673.3, (686.7, 716.7)), n='N= 200', nc='(not converged=0)'),
    dict(title='Group 1', col=RIGHT, row='mid',
         sims=group_sims(g1_c1_hb60, g1_c1_hb80, g1_c1_hb120, g1_c1_hb140),
         true=(true_group1, spline_curve), med=(KNOTS5, med_g1_conv1, spline_curve),
         leg=(33, 652.7, (666.7, 696.7)), n='N= 199', nc='(not converged=1)'),
    dict(title='Group 0', col=LEFT, row='bot',
         sims=group_sims(g0_c0_hb60, g0_c0_hb80, g0_c0_hb120, g0_c0_hb140),
         true=(true_group0, spline_curve), med=(med_g0_conv0_hb, med_g0_conv0, None),
         leg=(33, 1113, (1126.7, 1156.7)), n='N= 200', nc='(not converged=0)'),
    dict(title='Group 0', col=RIGHT, row='bot',
         sims=group_sims(g0_c1_hb60, g0_c1_hb80, g0_c1_hb120, g0_c1_hb140),
         true=(true_group0, spline_curve), med=(KNOTS5, med_g0_conv1, spline_curve),
         leg=(33, 1113, (1126.7, 1156.7)), n='N= 199', nc='(not converged=1)'),
]

for p in panels:
    x0, x1 = p['col']
    y0, y1 = ROWS[p['row']]
    ax = fig.add_axes([x0 / W, 1 - y1 / H, (x1 - x0) / W, (y1 - y0) / H])
    ax.set_xlim(3.24, -3.24)
    ax.set_ylim(56.8, 143.2)

    knots, sims, fn = p['sims']
    for vals in sims:
        ax.plot(fn(knots, vals, hb_grid), hb_grid, color='black', lw=0.8)

    mk, mv, mfn = p['med']
    if mfn is None:
        ax.plot(mv, mk, color=GREEN, lw=2.2)
    else:
        ax.plot(mfn(mk, mv, hb_grid), hb_grid, color=GREEN, lw=2.2)
    tv, tfn = p['true']
    ax.plot(tfn(KNOTS5, tv, hb_grid), hb_grid, color=RED, lw=2.2)

    # log hazard along the bottom (reversed), HB on the right
    ax.set_xticks(HAZ_TICKS)
    ax.set_yticks(HB_TICKS)
    ax.yaxis.tick_right()
    ax.tick_params(axis='x', bottom=True, top=False, labelbottom=False,
                   direction='out', length=5, width=0.8)
    ax.tick_params(axis='y', left=False, right=True, labelleft=False, labelright=False,
                   direction='out', length=5, width=0.8)
    for s in ax.spines.values():
        s.set_linewidth(0.8)

    tb = blended_transform_factory(ax.transData, ax.transAxes) + \
        ScaledTranslation(0, -23.7 / 100, fig.dpi_scale_trans)
    for v, lab in zip(HAZ_TICKS, HAZ_LABELS):
        ax.text(v, 0, lab, transform=tb, rotation=180, ha='center', va='center',
                fontsize=9.4, clip_on=False)
    tr = blended_transform_factory(ax.transAxes, ax.transData) + \
        ScaledTranslation(24.5 / 100, 0, fig.dpi_scale_trans)
    for v in HB_TICKS:
        ax.text(1, v, str(v), transform=tr, rotation=90, ha='center', va='center',
                fontsize=9.4, clip_on=False)

    fig.text((x0 + x1) / 2, y1 + 56, 'Log relative hazard', transform=px,
             rotation=180, ha='center', va='center', fontsize=12)
    fig.text(x1 + 54, (y0 + y1) / 2, 'HB', transform=px,
             rotation=90, ha='center', va='center', fontsize=12)
    fig.text(x0 - 32, (y0 + y1) / 2, p['title'], transform=px,
             rotation=90, ha='center', va='center', fontsize=13, fontweight='bold')

    # legend
    xoff, ytxt, yseg = p['leg']
    lx = x0 + xoff
    for i, s in enumerate(['true function', 'median', p['n'], p['nc']]):
        fig.text(lx + 19.2 * i, ytxt, s, transform=px, rotation=90,
                 rotation_mode='anchor', ha='left', va='center', fontsize=12)
    for i, c in enumerate([RED, GREEN]):
        fig.add_artist(Line2D([lx + 19.2 * i - 1.5] * 2, list(yseg), transform=px,
                              color=c, lw=2.2))

fig.savefig('out.png', dpi=100)
